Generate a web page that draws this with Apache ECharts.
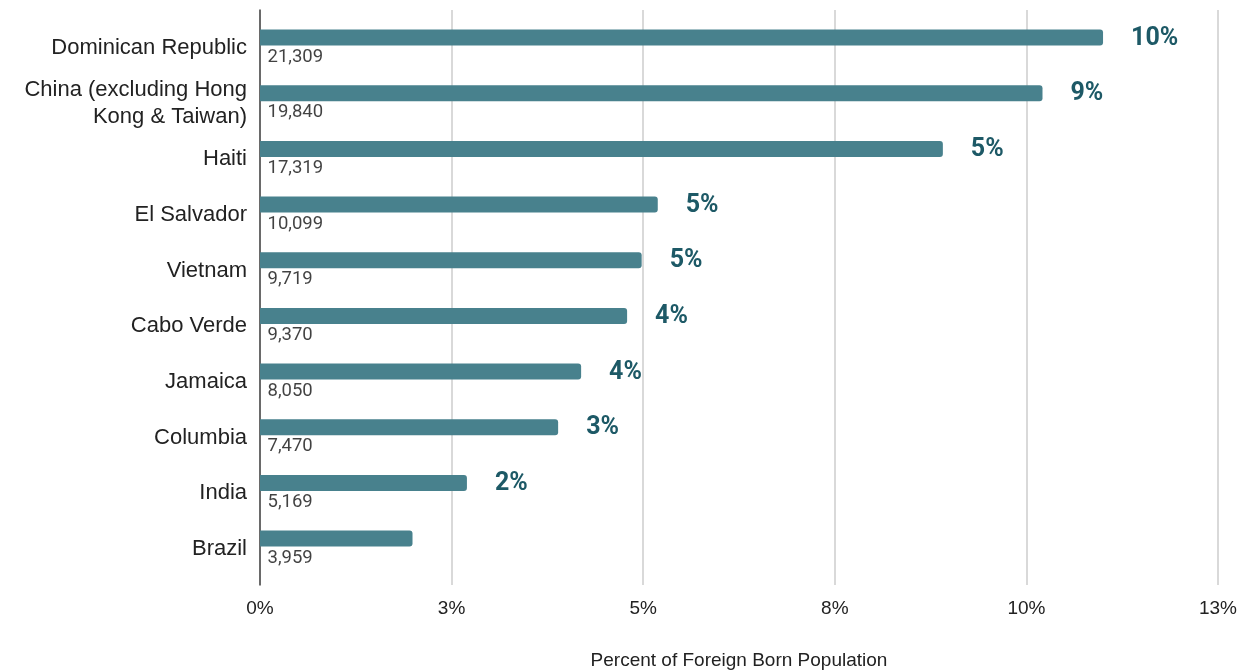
<!DOCTYPE html>
<html>
<head>
<meta charset="utf-8">
<script src="https://cdn.jsdelivr.net/npm/echarts@6/dist/echarts.min.js"></script>
<style>
html,body{margin:0;padding:0;background:#fff;}
#chart{width:1248px;height:671px;}
</style>
</head>
<body>
<div id="chart"></div>
<script>
const categories = ["Dominican Republic", "China (excluding Hong\nKong & Taiwan)", "Haiti", "El Salvador", "Vietnam", "Cabo Verde", "Jamaica", "Columbia", "India", "Brazil"];
const barValues = [11.0, 10.21, 8.91, 5.19, 4.98, 4.79, 4.19, 3.89, 2.70, 1.99];
const pctLabels = ["10%", "9%", "5%", "5%", "5%", "4%", "4%", "3%", "2%", ""];
const countLabels = ["21,309", "19,840", "17,319", "10,099", "9,719", "9,370", "8,050", "7,470", "5,169", "3,959"];
const xTicks = { min: 0, max: 12.5, interval: 2.5 };
const axisTitle = "Percent of Foreign Born Population";

const sans = "'Liberation Sans', Arial, sans-serif";
const chart = echarts.init(document.getElementById('chart'), null, { renderer: 'canvas' });
chart.setOption({
  animation: false,
  backgroundColor: '#ffffff',
  grid: [
    { left: 260, right: 30, top: 9.7, height: 556.7, outerBoundsMode: 'none', containLabel: false },
    { left: 260, right: 30, top: 10, height: 575, outerBoundsMode: 'none', containLabel: false },
    { left: 260, right: 30, top: 20, height: 556.7, outerBoundsMode: 'none', containLabel: false }
  ],
  xAxis: [
    { type: 'value', gridIndex: 0, min: xTicks.min, max: xTicks.max, interval: xTicks.interval, show: false },
    {
      type: 'value', gridIndex: 1, min: xTicks.min, max: xTicks.max, interval: xTicks.interval,
      axisLine: { show: false }, axisTick: { show: false },
      splitLine: { show: true, lineStyle: { color: '#cccccc', width: 1.5 } },
      axisLabel: { formatter: v => Math.round(v) + '%', fontFamily: sans, fontSize: 19, color: '#222', margin: 14 },
      name: axisTitle, nameLocation: 'middle', nameGap: 66,
      nameTextStyle: { fontFamily: sans, fontSize: 19, color: '#222' }
    },
    { type: 'value', gridIndex: 2, min: 0, max: 1, show: false }
  ],
  yAxis: [
    {
      type: 'category', gridIndex: 0, inverse: true, data: categories,
      axisLine: { show: false }, axisTick: { show: false }, splitLine: { show: false },
      axisLabel: { show: false }
    },
    {
      type: 'value', gridIndex: 1, min: 0, max: 1,
      axisLine: { show: true, onZero: false, lineStyle: { color: '#444', width: 1.5 } },
      axisTick: { show: false }, axisLabel: { show: false }, splitLine: { show: false }
    },
    {
      type: 'category', gridIndex: 2, inverse: true, data: categories,
      axisLine: { show: false }, axisTick: { show: false }, splitLine: { show: false },
      axisLabel: { interval: 0, hideOverlap: false, fontFamily: sans, fontSize: 22, color: '#222', margin: 13, lineHeight: 27, align: 'right' }
    }
  ],
  series: [
    {
      type: 'bar', xAxisIndex: 0, yAxisIndex: 0, data: barValues, barWidth: 16,
      itemStyle: { color: '#48818d', borderRadius: [0, 3, 3, 0] },
      label: {
        show: true, position: 'right', distance: 28, offset: [0, 1],
        formatter: p => pctLabels[p.dataIndex],
        fontFamily: 'Roboto', fontWeight: 'bold', fontSize: 25, color: '#1d5966'
      },
      z: 3
    },
    {
      type: 'scatter', xAxisIndex: 0, yAxisIndex: 0, silent: true,
      data: categories.map((c, i) => [0, i]),
      symbolSize: 1, itemStyle: { color: 'rgba(0,0,0,0)' },
      label: {
        show: true, position: 'right', distance: 7, offset: [0, 19.5],
        formatter: p => countLabels[p.dataIndex],
        fontFamily: 'Roboto', fontSize: 18.5, color: '#111'
      },
      z: 4
    }
  ]
});
</script>
</body>
</html>
